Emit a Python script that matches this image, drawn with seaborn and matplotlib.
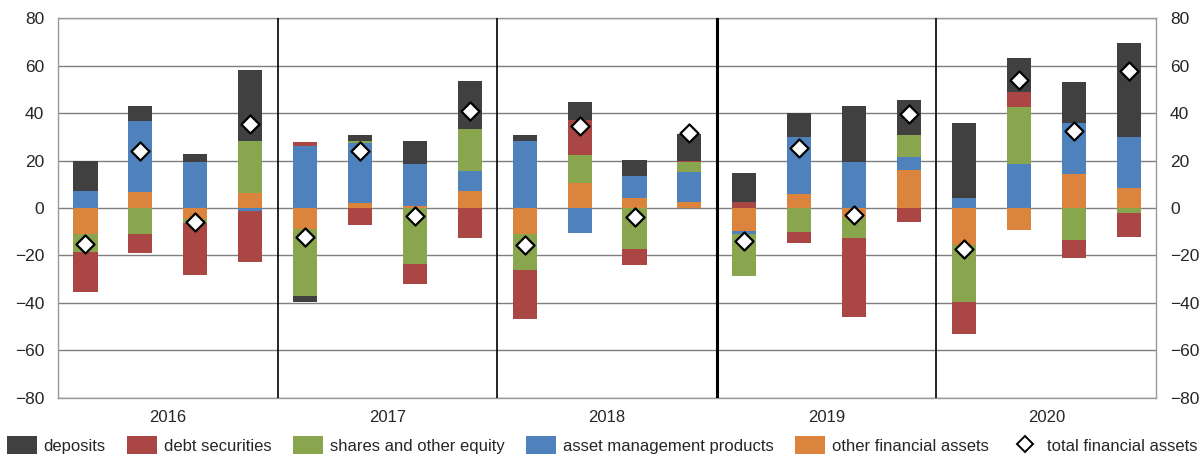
import numpy as np
import pandas as pd
import matplotlib
matplotlib.use("Agg")
import matplotlib.pyplot as plt
from matplotlib.patches import Patch
from matplotlib.lines import Line2D
import seaborn as sns

# quarterly flows, 2016Q1 .. 2020Q4 (EUR bn)
years = ["2016", "2017", "2018", "2019", "2020"]
deposits = [12.8, 6.1, 3.5, 29.9,
            -2.8, 2.4, 9.6, 20.0,
            2.5, 7.6, 6.9, 11.3,
            12.4, 10.3, 23.7, 14.8,
            31.7, 14.6, 17.6, 39.7]
debt_securities = [-17.0, -7.7, -22.0, -21.4,
                   1.4, -7.0, -8.5, -12.5,
                   -20.7, 14.8, -7.0, 0.4,
                   2.5, -4.5, -33.1, -5.9,
                   -13.4, 6.3, -7.5, -9.9]
shares_equity = [-7.3, -11.1, -1.5, 22.1,
                 -28.2, 1.1, -23.4, 17.6,
                 -14.8, 12.0, -17.2, 4.1,
                 -17.6, -10.1, -8.5, 9.2,
                 -24.2, 23.9, -13.5, -2.3]
asset_mgmt = [7.2, 30.0, 19.2, -1.4,
              26.2, 24.9, 17.9, 8.5,
              28.3, -10.4, 8.9, 12.8,
              -1.4, 23.9, 19.2, 5.6,
              4.1, 18.5, 21.4, 21.1]
other_assets = [-11.1, 6.8, -4.8, 6.2,
                -8.7, 2.3, 0.8, 7.2,
                -11.1, 10.4, 4.4, 2.5,
                -9.7, 5.8, -4.1, 15.9,
                -15.4, -9.4, 14.2, 8.6]
total_assets = [-15.1, 24.1, -5.9, 35.5,
                -12.1, 24.1, -3.4, 40.7,
                -15.6, 34.6, -3.8, 31.4,
                -13.9, 25.2, -3.1, 39.6,
                -17.2, 53.9, 32.5, 57.5]

labels = ["deposits", "debt securities", "shares and other equity",
          "asset management products", "other financial assets"]
colors = {"deposits": "#404040", "debt securities": "#AA4643",
          "shares and other equity": "#89A54E",
          "asset management products": "#4F81BD",
          "other financial assets": "#DB843D"}

series = {"deposits": deposits, "debt securities": debt_securities,
          "shares and other equity": shares_equity,
          "asset management products": asset_mgmt,
          "other financial assets": other_assets}
# stacking order from zero outwards
stack_order = ["other financial assets", "asset management products",
               "shares and other equity", "debt securities", "deposits"]

n = len(total_assets)
xpos = np.arange(n)

sns.set_style("white")
plt.rcParams["font.family"] = ["Liberation Sans", "DejaVu Sans"]

fig = plt.figure(figsize=(12.04, 4.55), dpi=100)
ax = fig.add_axes([0.0482, 0.1253, 0.9120, 0.8351])

pos_base = np.zeros(n)
neg_base = np.zeros(n)
for name in stack_order:
    vals = np.array(series[name])
    base = np.where(vals >= 0, pos_base, neg_base)
    df = pd.DataFrame({"q": xpos, "v": vals})
    sns.barplot(data=df, x="q", y="v", bottom=base, color=colors[name],
                width=0.44, linewidth=0, errorbar=None, saturation=1,
                native_scale=True, ax=ax, zorder=3)
    pos_base = pos_base + np.where(vals >= 0, vals, 0)
    neg_base = neg_base + np.where(vals < 0, vals, 0)

tot = pd.DataFrame({"q": xpos, "v": total_assets})
sns.scatterplot(data=tot, x="q", y="v", marker="D", s=85, color="white",
                edgecolor="black", linewidth=1.6, ax=ax, zorder=5)

ax.set_xlim(-0.5, n - 0.5)
ax.set_ylim(-80, 80)
ax.set_yticks(np.arange(-80, 81, 20))
ax.yaxis.grid(True, color="#7f7f7f", linewidth=1.0, zorder=0)
ax.set_axisbelow(True)
ax.tick_params(axis="y", length=0, labelsize=12.5, labelleft=True,
               labelright=True, pad=10)
ax.set_xlabel("")
ax.set_ylabel("")

# year labels at centre ticks, quarter ticks as minor
ax.set_xticks(np.arange(1.5, n, 4))
ax.set_xticklabels(years)
ax.set_xticks([i + 0.5 for i in range(n - 1) if (i % 4) in (0, 2)], minor=True)
ax.tick_params(axis="x", which="major", direction="in", length=6, width=2,
               color="black", labelsize=12, pad=9)
ax.tick_params(axis="x", which="minor", direction="in", length=3, width=2,
               color="black")

for i, xv in enumerate(np.arange(3.5, n - 1, 4)):
    ax.axvline(xv, color="black", linewidth=2.2 if i == 2 else 1.2, zorder=4)

for sp in ax.spines.values():
    sp.set_color("#999999")
    sp.set_linewidth(1.0)

handles = [Patch(facecolor=colors[l], edgecolor="none") for l in labels]
handles.append(Line2D([], [], marker="D", linestyle="none", markersize=8,
                      markerfacecolor="white", markeredgecolor="black",
                      markeredgewidth=1.4))
fig.legend(handles, labels + ["total financial assets"], loc="lower center",
           bbox_to_anchor=(0.5, -0.03), ncol=6, frameon=False,
           prop={"family": ["Liberation Sans"], "size": 12},
           handlelength=1.8, handleheight=1.2, handletextpad=0.4,
           columnspacing=1.3)

fig.savefig("out.png", dpi=100)
